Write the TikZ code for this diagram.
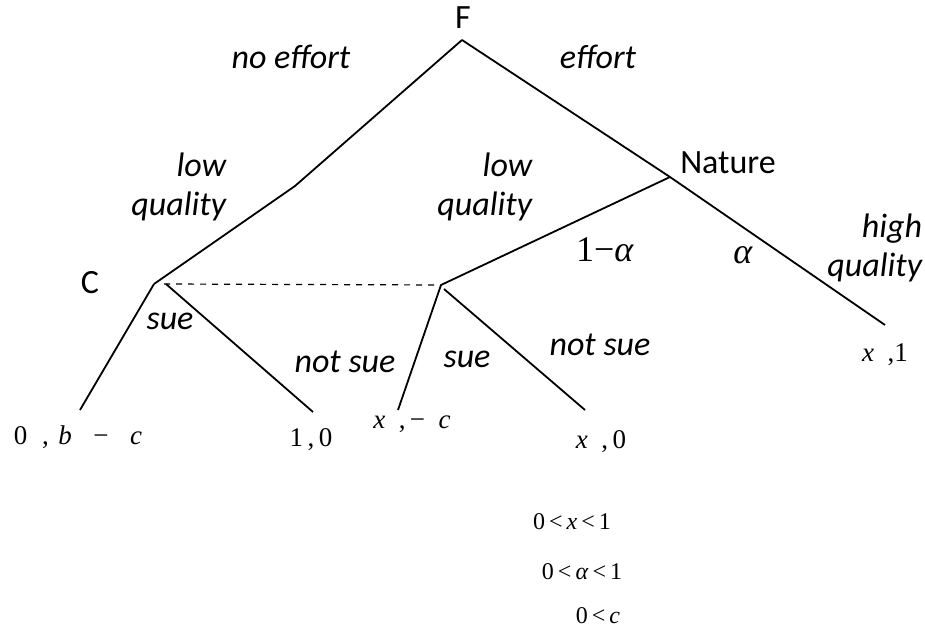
\documentclass[tikz,border=0pt]{standalone}
\usepackage{fontspec}
\setmainfont{Carlito}
\newfontfamily\tnr{Liberation Serif}
\usepackage{tikz}

\begin{document}
\begin{tikzpicture}[x=0.5pt,y=-0.5pt,line width=0.9pt,
  lbl/.style={font=\fontsize{17}{19.5}\selectfont\itshape,inner sep=0pt},
  plyr/.style={font=\fontsize{17}{19.5}\selectfont,inner sep=0pt},
  pay/.style={font=\tnr\fontsize{13.5}{15}\selectfont,inner sep=0pt},
  cond/.style={font=\tnr\fontsize{12}{14}\selectfont,inner sep=0pt},
  prob/.style={font=\tnr\fontsize{18}{20}\selectfont,inner sep=0pt}]
  \useasboundingbox (0,0) rectangle (925,630);
  % decision and chance nodes
  \coordinate (f) at (462,40);
  \coordinate (kink) at (295,186);
  \coordinate (nat) at (670,177);
  \coordinate (c) at (154,284);
  \coordinate (ci) at (441,285);
  % terminal points
  \coordinate (t1) at (80,410);
  \coordinate (t2) at (313,412);
  \coordinate (t3) at (398,410);
  \coordinate (t4) at (585,410);
  \coordinate (t5) at (885,325);
  % tree
  \draw (f) -- (kink) -- (c);
  \draw (f) -- (nat) -- (t5);
  \draw (nat) -- (ci);
  \draw (c) -- (t1);
  \draw ([xshift=6pt]c) -- (t2);
  \draw (ci) -- (t3);
  \draw ([xshift=1.5pt,yshift=-2pt]ci) -- (t4);
  \draw[dashed,line width=0.6pt] ([xshift=5pt]c) -- (ci);
  % players and moves
  \node[plyr] (lf) at (463,18) {F};
  \node[plyr] (lnat) at (728,163) {Nature};
  \node[plyr] (lc) at (90,283) {C};
  \node[lbl] (noeff) at (291,57) {no effort};
  \node[lbl] (eff) at (598,57) {effort};
  \node[lbl,align=right,anchor=east] (lowl) at (227,187) {low\\quality};
  \node[lbl,align=right,anchor=east] (lowr) at (533,187) {low\\quality};
  \node[lbl,align=right,anchor=east] (high) at (923,248) {high\\quality};
  \node[lbl] (suel) at (170,321) {sue};
  \node[lbl] (nsuel) at (345,362) {not sue};
  \node[lbl] (suer) at (467,359) {sue};
  \node[lbl] (nsuer) at (600,345) {not sue};
  \node[prob] (pl) at (605,250) {1−\textit{α}};
  \node[prob] (pr) at (743,255) {\textit{α}};
  % payoffs
  \node[pay] (p1) at (78,437) {0\hspace{0.55em},\hspace{0.35em}\textit{b}\hspace{0.8em}−\hspace{0.8em}\textit{c}};
  \node[pay] (p2) at (311,440) {1\,,\,0};
  \node[pay] (p3) at (412,424) {\textit{x}\hspace{0.5em},\,−\hspace{0.5em}\textit{c}};
  \node[pay] (p4) at (601,442) {\textit{x}\hspace{0.5em},\,0};
  \node[pay] (p5) at (885,355) {\textit{x}\hspace{0.5em},1};
  % assumptions
  \node[cond] (a1) at (572,522) {0\,<\,\textit{x}\,<\,1};
  \node[cond] (a2) at (582,572) {0\,<\,\textit{α}\,<\,1};
  \node[cond] (a3) at (598,616) {0\,<\,\textit{c}};
\end{tikzpicture}
\end{document}
